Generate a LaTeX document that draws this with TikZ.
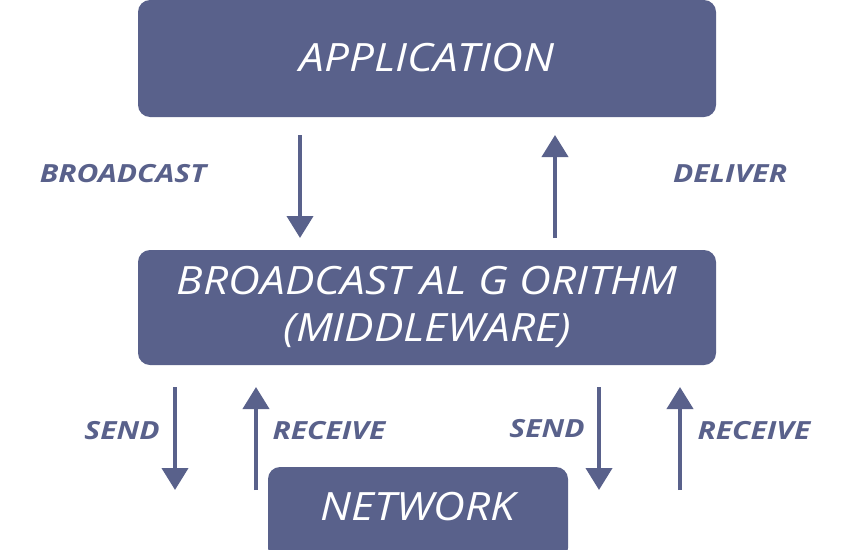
\documentclass[tikz,border=0pt]{standalone}
\usepackage{fontspec}
\setmainfont{Open Sans}
\newfontfamily\boxfont[FakeStretch=1.13]{Open Sans}
\newfontfamily\lblfont[FakeStretch=1.2]{Open Sans}
\usetikzlibrary{arrows.meta}
\definecolor{boxc}{HTML}{59618B}
\begin{document}
\begin{tikzpicture}[x=1pt,y=-1pt,
  boxtext/.style={inner sep=0,text=white,font=\boxfont\fontsize{39}{47}\selectfont\itshape,align=center},
  lbl/.style={text=boxc,font=\lblfont\fontsize{25}{30}\selectfont\bfseries\itshape},
  arr/.style={draw=boxc,line width=4pt,-{Triangle[length=22pt,width=26pt]}}]
\useasboundingbox (0,0) rectangle (864,549);
\fill[boxc,rounded corners=12pt] (138,0) rectangle (716,117);
\node[boxtext] (app) at (427,58) {APPLICATION};
\fill[boxc,rounded corners=12pt] (138,250) rectangle (716,365);
\node[boxtext] (mid) at (427,307) {BROADCAST AL G ORITHM\\(MIDDLEWARE)};
\fill[boxc,rounded corners=12pt] (268,467) rectangle (568,560);
\node[boxtext] (net) at (418,507) {NETWORK};
\coordinate (b1) at (300,135); \coordinate (b2) at (300,238);
\coordinate (d1) at (555,238); \coordinate (d2) at (555,135);
\coordinate (s1a) at (175,387); \coordinate (s1b) at (175,490);
\coordinate (r1a) at (256,490); \coordinate (r1b) at (256,387);
\coordinate (s2a) at (599,387); \coordinate (s2b) at (599,490);
\coordinate (r2a) at (680,490); \coordinate (r2b) at (680,387);
\draw[arr] (b1) -- (b2);
\draw[arr] (d1) -- (d2);
\draw[arr] (s1a) -- (s1b);
\draw[arr] (r1a) -- (r1b);
\draw[arr] (s2a) -- (s2b);
\draw[arr] (r2a) -- (r2b);
\node[lbl] (lb) at (123,174) {BROADCAST};
\node[lbl] (ld) at (730,174) {DELIVER};
\node[lbl] (ls1) at (122,431) {SEND};
\node[lbl] (lr1) at (329,431) {RECEIVE};
\node[lbl] (ls2) at (547,429) {SEND};
\node[lbl] (lr2) at (754,431) {RECEIVE};
\end{tikzpicture}
\end{document}
